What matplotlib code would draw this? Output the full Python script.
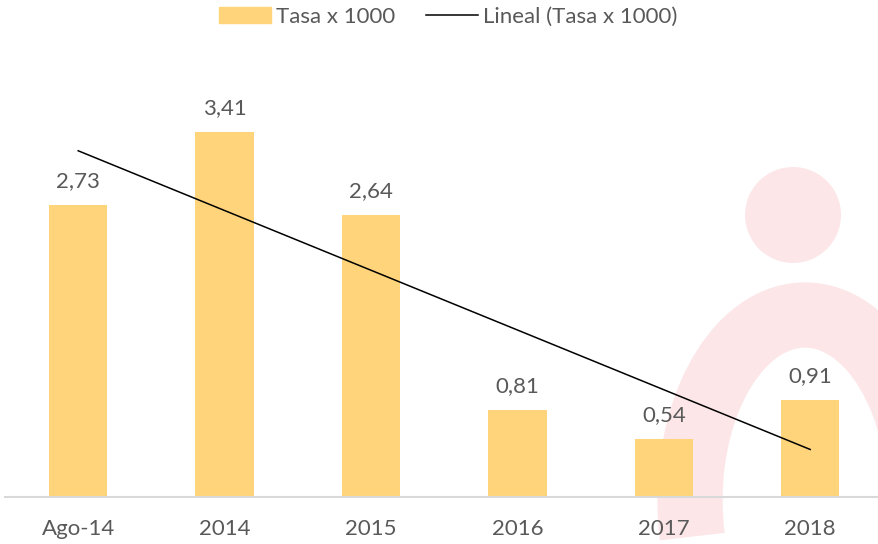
import numpy as np
import matplotlib.pyplot as plt
from matplotlib.patches import Circle, Arc
from matplotlib.lines import Line2D
from matplotlib.patches import Patch

categories = ['Ago-14', '2014', '2015', '2016', '2017', '2018']
tasa = [2.73, 3.41, 2.64, 0.81, 0.54, 0.91]
value_labels = ['2,73', '3,41', '2,64', '0,81', '0,54', '0,91']

bar_color = '#FFD47A'
text_color = '#595959'
plt.rcParams['font.family'] = ['Lato', 'DejaVu Sans']

fig = plt.figure(figsize=(8.79, 5.44), dpi=100)

# faint logo watermark behind the chart (pixel coords, y up)
bg = fig.add_axes([0, 0, 1, 1], zorder=0)
bg.set_xlim(0, 879)
bg.set_ylim(0, 544)
bg.axis('off')
bg.add_patch(Circle((793, 544 - 215), 48, color='#FCE6E8', lw=0))
bg.add_patch(Arc((805, 544 - 500), 230, 370, theta1=15, theta2=198,
                 color='#FCE6E8', lw=47))

ax = fig.add_axes([5 / 879, 47 / 544, 874 / 879, 428 / 544], zorder=1)
ax.patch.set_alpha(0)
x = np.arange(len(categories))
ax.bar(x, tasa, width=0.4, color=bar_color, zorder=2)

# linear trend
coef = np.polyfit(x, tasa, 1)
ax.plot(x, np.polyval(coef, x), color='black', lw=1.1, zorder=3)

for xi, v, lab in zip(x, tasa, value_labels):
    ax.annotate(lab, (xi, v), xytext=(0, 10), textcoords='offset points',
                ha='center', va='bottom', fontsize=16, color=text_color)

ax.set_xlim(-0.5, 5.47)
ax.set_ylim(0, 4)
ax.set_xticks(x)
ax.set_xticklabels(categories, fontsize=16, color=text_color)
ax.tick_params(axis='x', length=0, pad=16)
ax.set_yticks([])
for s in ['top', 'right', 'left']:
    ax.spines[s].set_visible(False)
ax.spines['bottom'].set_color('#D9D9D9')
ax.spines['bottom'].set_linewidth(1.5)

handles = [Patch(color=bar_color, label='Tasa x 1000'),
           Line2D([0], [0], color='black', lw=1.1, label='Lineal (Tasa x 1000)')]
fig.legend(handles=handles, loc='center', bbox_to_anchor=(448 / 879, 1 - 17 / 544),
           ncol=2, frameon=False, fontsize=16, labelcolor=text_color,
           handlelength=2.35, handleheight=0.7, columnspacing=1.4, handletextpad=0.2)

fig.savefig('out.png', dpi=100)
